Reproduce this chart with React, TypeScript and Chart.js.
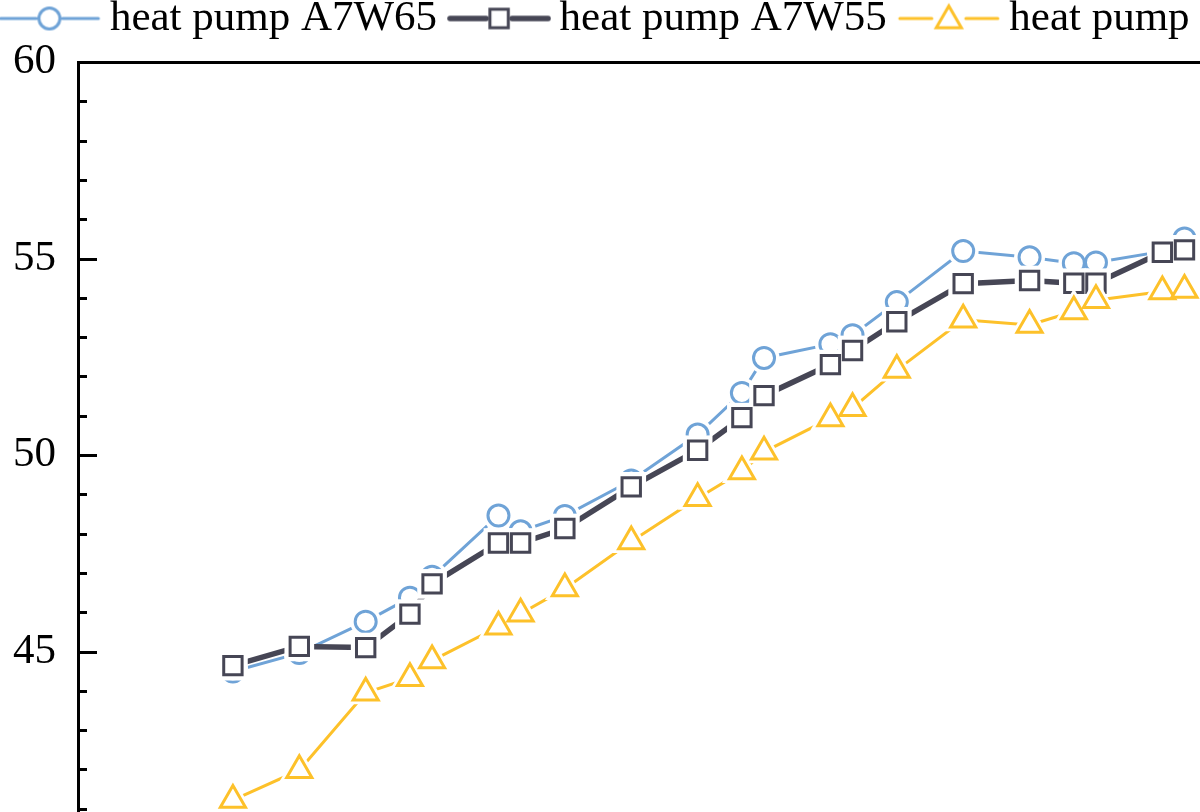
import { useEffect, useRef } from 'react';
import { Chart, registerables, type ChartConfiguration } from 'chart.js';

Chart.register(...registerables);
Chart.defaults.font.family = "'Liberation Serif', 'Times New Roman', serif";
Chart.defaults.font.size = 43;
Chart.defaults.color = '#000000';

// measurement days (x positions of the points)
const xDays = [0, 3, 6, 8, 9, 12, 13, 15, 18, 21, 23, 24, 27, 28, 30, 33, 36, 38, 39, 42, 43];

// outlet temperature per series
const a7w65 = [44.49, 44.96, 45.76, 46.37, 46.9, 48.46, 48.06, 48.45, 49.35, 50.52, 51.58, 52.47, 52.82, 53.05, 53.89, 55.19, 55.03, 54.88, 54.9, 55.18, 55.51];
const a7w55 = [44.64, 45.13, 45.1, 45.95, 46.72, 47.76, 47.76, 48.13, 49.19, 50.12, 50.95, 51.51, 52.3, 52.66, 53.39, 54.36, 54.44, 54.37, 54.37, 55.16, 55.22];
const heatPump = [41.22, 41.98, 43.95, 44.32, 44.77, 45.63, 45.96, 46.6, 47.8, 48.9, 49.58, 50.08, 50.93, 51.19, 52.16, 53.44, 53.31, 53.65, 53.94, 54.16, 54.2];

const seriesNames = ['heat pump A7W65', 'heat pump A7W55', 'heat pump'];
const seriesValues = [a7w65, a7w55, heatPump];

const Y_MIN = 40;
const Y_MAX = 60;
const Y_MAJOR = 5;
const Y_MINOR = 1;
const X_MIN = -7;
const X_MAX = 47;

// the reference is a crop of a bigger figure
const CANVAS_W = 1392;
const CANVAS_H = 937;
const SHIFT_X = -96;
const SHIFT_Y = -26;

type Marker = 'circle' | 'rect' | 'triangle';
const looks: { color: string; lineWidth: number; marker: Marker; radius: number; halo: number }[] = [
  { color: '#6fa3d7', lineWidth: 3, marker: 'circle', radius: 10.5, halo: 15.5 },
  { color: '#464655', lineWidth: 5.5, marker: 'rect', radius: 13, halo: 21 },
  { color: '#fdc12a', lineWidth: 3, marker: 'triangle', radius: 14.5, halo: 23 },
];
const MARKER_BORDER = 3;

function markerPath(ctx: CanvasRenderingContext2D, m: Marker, x: number, y: number, r: number) {
  ctx.beginPath();
  if (m === 'circle') {
    ctx.arc(x, y, r, 0, Math.PI * 2);
  } else if (m === 'rect') {
    const s = r * Math.SQRT1_2;
    ctx.rect(x - s, y - s, 2 * s, 2 * s);
  } else {
    ctx.moveTo(x, y - r);
    ctx.lineTo(x + (r * Math.sqrt(3)) / 2, y + r / 2);
    ctx.lineTo(x - (r * Math.sqrt(3)) / 2, y + r / 2);
    ctx.closePath();
  }
}

function legendSymbol(i: number) {
  const look = looks[i];
  const c = document.createElement('canvas');
  c.width = 104;
  c.height = 34;
  const ctx = c.getContext('2d')!;
  const cx = 52;
  const cy = 17;
  const gap = look.marker === 'triangle' ? 17 : 13;
  ctx.strokeStyle = look.color;
  ctx.lineWidth = look.lineWidth;
  ctx.lineCap = 'round';
  ctx.beginPath();
  ctx.moveTo(3, cy);
  ctx.lineTo(cx - gap, cy);
  ctx.moveTo(cx + gap, cy);
  ctx.lineTo(101, cy);
  ctx.stroke();
  markerPath(ctx, look.marker, cx, look.marker === 'triangle' ? cy + 2 : cy, look.radius);
  ctx.fillStyle = '#ffffff';
  ctx.fill();
  ctx.lineWidth = MARKER_BORDER;
  ctx.stroke();
  return c;
}

const inwardTicks = {
  id: 'inwardTicks',
  afterDatasetsDraw(chart: Chart) {
    const { ctx, chartArea } = chart;
    const y = chart.scales.y;
    ctx.save();
    ctx.strokeStyle = '#000000';
    ctx.lineWidth = 3;
    for (let v = Y_MIN; v <= Y_MAX; v += Y_MINOR) {
      const py = Math.round(y.getPixelForValue(v)) + 0.5;
      const len = v % Y_MAJOR === 0 ? 19 : 9;
      ctx.beginPath();
      ctx.moveTo(chartArea.left, py);
      ctx.lineTo(chartArea.left + len, py);
      ctx.stroke();
    }
    ctx.restore();
  },
};

function buildConfig(): ChartConfiguration<'line'> {
  const datasets: any[] = [];
  seriesValues.forEach((vals, i) => {
    const look = looks[i];
    const pts = xDays.map((x, k) => ({ x, y: vals[k] }));
    const base = 9 - i * 3;
    datasets.push({
      label: seriesNames[i],
      data: pts,
      borderColor: look.color,
      borderWidth: look.lineWidth,
      borderCapStyle: 'round',
      pointRadius: 0,
      tension: 0,
      fill: false,
      order: base,
    });
    datasets.push({
      label: seriesNames[i] + ' halo',
      data: pts,
      showLine: false,
      pointStyle: look.marker,
      pointRadius: look.halo,
      pointBackgroundColor: '#ffffff',
      pointBorderWidth: 0,
      pointBorderColor: '#ffffff',
      order: base - 1,
    });
    datasets.push({
      label: seriesNames[i] + ' marker',
      data: pts,
      showLine: false,
      pointStyle: look.marker,
      pointRadius: look.radius,
      pointBackgroundColor: '#ffffff',
      pointBorderColor: look.color,
      pointBorderWidth: MARKER_BORDER,
      order: base - 2,
    });
  });

  const symbols = looks.map((_, i) => legendSymbol(i));

  return {
    type: 'line',
    data: { datasets },
    plugins: [inwardTicks],
    options: {
      animation: false,
      responsive: false,
      events: [],
      layout: { padding: 0 },
      plugins: {
        tooltip: { enabled: false },
        legend: {
          position: 'top',
          labels: {
            usePointStyle: true,
            pointStyleWidth: 78,
            padding: 23,
            color: '#000000',
            generateLabels: () =>
              seriesNames.map((text, i) => ({
                text,
                pointStyle: symbols[i] as any,
                fillStyle: '#ffffff',
                strokeStyle: looks[i].color,
                lineWidth: 0,
                hidden: false,
                datasetIndex: i * 3,
                fontColor: '#000000',
              })),
          },
        },
      },
      scales: {
        x: {
          type: 'linear',
          min: X_MIN,
          max: X_MAX,
          grid: { display: false, drawTicks: false },
          border: { display: true, color: '#000000', width: 3 },
          ticks: { display: false },
          afterFit: (s: any) => {
            s.height = 63;
          },
        },
        xTop: {
          type: 'linear',
          position: 'top',
          min: X_MIN,
          max: X_MAX,
          grid: { display: false, drawTicks: false },
          border: { display: true, color: '#000000', width: 3 },
          ticks: { display: false },
          afterFit: (s: any) => {
            s.height = 12;
          },
        },
        y: {
          type: 'linear',
          min: Y_MIN,
          max: Y_MAX,
          grid: { display: false, drawTicks: false },
          border: { display: true, color: '#000000', width: 3 },
          ticks: { stepSize: Y_MAJOR, padding: 22, color: '#000000' },
          afterFit: (s: any) => {
            s.width = 78 - SHIFT_X;
          },
        },
      },
    },
  } as ChartConfiguration<'line'>;
}

export default function App() {
  const canvas = useRef<HTMLCanvasElement>(null);
  useEffect(() => {
    if (!canvas.current) return;
    const chart = new Chart(canvas.current, buildConfig());
    return () => chart.destroy();
  }, []);
  return (
    <div
      style={{
        position: 'fixed',
        left: 0,
        top: 0,
        width: 1200,
        height: 812,
        overflow: 'hidden',
        background: '#ffffff',
      }}
    >
      <canvas
        ref={canvas}
        width={CANVAS_W}
        height={CANVAS_H}
        style={{ position: 'absolute', left: SHIFT_X, top: SHIFT_Y, width: CANVAS_W, height: CANVAS_H }}
      />
    </div>
  );
}
